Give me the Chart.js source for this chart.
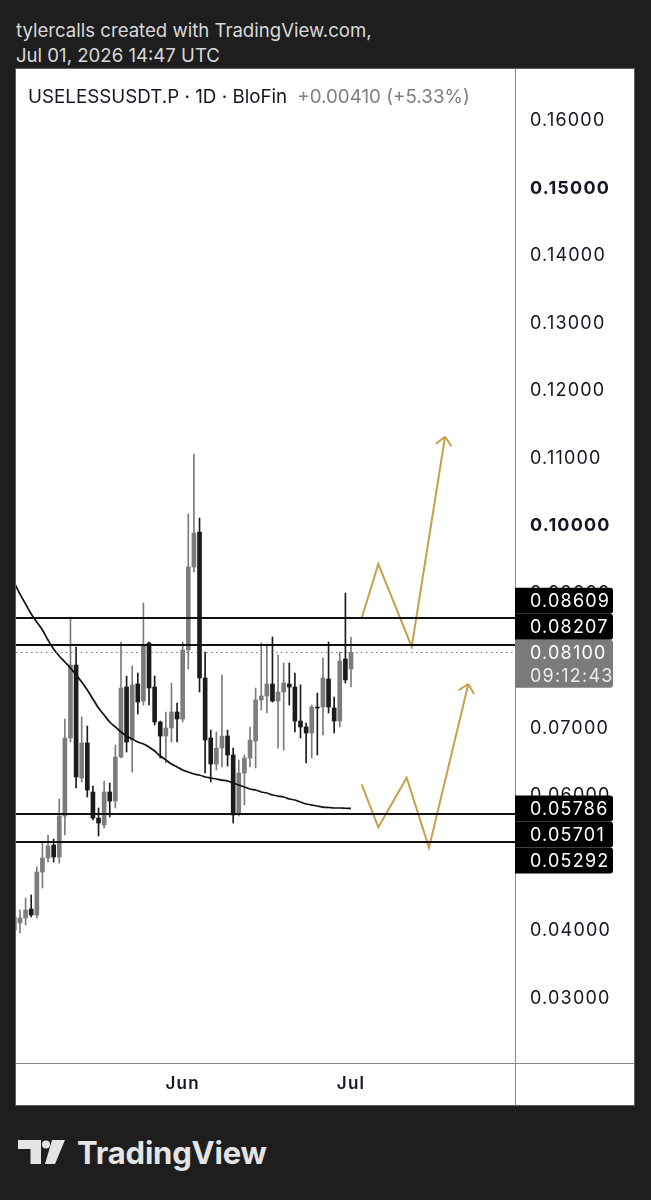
<!DOCTYPE html>
<html>
<head>
<meta charset="utf-8">
<title>USELESSUSDT.P 1D</title>
<script src="https://cdn.jsdelivr.net/npm/chart.js@4.4.1/dist/chart.umd.min.js"></script>
<style>
  html, body { margin: 0; padding: 0; }
  body { width: 651px; height: 1200px; background: #1e1e1e; position: relative; overflow: hidden; font-family: Inter, "Liberation Sans", sans-serif; }
  .head { position: absolute; left: 16px; color: #d9d9d9; font-size: 18.6px; line-height: 24px; white-space: nowrap; }
  #wrap { position: absolute; left: 16px; top: 69px; width: 618px; height: 1036px; background: #fff; outline: 1px solid #5f5f5f; }
  #chart { display: block; }
  #title { position: absolute; left: 12px; top: 17px; font-size: 18.8px; line-height: 22px; color: #131722; white-space: nowrap; }
  #title .chg { color: #7f7f7f; margin-left: 10px; }
  #brand { position: absolute; left: 18px; top: 1134px; height: 36px; display: flex; align-items: center; color: #e4e4e4; font-weight: 700; font-size: 31px; letter-spacing: -0.2px; }
  #brand svg { margin-right: 12px; }
</style>
</head>
<body>
<div class="head" style="top:18px">tylercalls created with TradingView.com,</div>
<div class="head" style="top:43px">Jul 01, 2026 14:47 UTC</div>
<div id="wrap">
  <canvas id="chart" width="618" height="1036"></canvas>
  <div id="title">USELESSUSDT.P · 1D · BloFin<span class="chg">+0.00410 (+5.33%)</span></div>
</div>
<div id="brand">
  <svg width="47" height="24" viewBox="0 0 47 24"><path fill="#e4e4e4" d="M0 0H23V24H12.5V9H0Z"/><circle fill="#e4e4e4" cx="28" cy="4.5" r="4"/><path fill="#e4e4e4" d="M34 0H47L37 24H27Z"/></svg>TradingView
</div>
<script>
// daily candles, May 02 .. Jul 01
const candleDates = [
  '05-02','05-03','05-04','05-05','05-06','05-07','05-08','05-09','05-10','05-11',
  '05-12','05-13','05-14','05-15','05-16','05-17','05-18','05-19','05-20','05-21',
  '05-22','05-23','05-24','05-25','05-26','05-27','05-28','05-29','05-30','05-31',
  '06-01','06-02','06-03','06-04','06-05','06-06','06-07','06-08','06-09','06-10',
  '06-11','06-12','06-13','06-14','06-15','06-16','06-17','06-18','06-19','06-20',
  '06-21','06-22','06-23','06-24','06-25','06-26','06-27','06-28','06-29','06-30',
  '07-01'
];
const openPrices = [
  0.03985,0.04089,0.04163,0.04296,0.04207,0.04844,0.05052,0.05244,0.05067,0.05674,
  0.06830,0.07911,0.06237,0.06756,0.06030,0.05644,0.05541,0.06030,0.05896,0.06548,
  0.07585,0.06800,0.07630,0.07378,0.08237,0.07585,0.07067,0.06859,0.06978,0.07215,
  0.07111,0.08133,0.09363,0.09881,0.07719,0.06830,0.06444,0.06681,0.06859,0.06578,
  0.05719,0.06311,0.06533,0.06785,0.07393,0.07452,0.07630,0.07378,0.07511,0.07630,
  0.07585,0.07081,0.06993,0.06904,0.07289,0.07289,0.07704,0.07274,0.07081,0.08000,
  0.07852
];
const highPrices = [
  0.04356,0.04281,0.04459,0.04504,0.04919,0.05274,0.05393,0.05333,0.05926,0.07111,
  0.08622,0.08178,0.07141,0.07007,0.06119,0.05793,0.06193,0.06163,0.06726,0.08252,
  0.07748,0.07896,0.07793,0.08830,0.08252,0.07748,0.07081,0.07215,0.07644,0.07348,
  0.08252,0.10148,0.11037,0.10089,0.08104,0.06948,0.06919,0.07763,0.06948,0.06681,
  0.06504,0.06578,0.06993,0.07570,0.08237,0.08222,0.08326,0.08059,0.07941,0.07941,
  0.07793,0.07615,0.07052,0.07319,0.07496,0.08015,0.08252,0.07437,0.08104,0.08978,
  0.08326
];
const lowPrices = [
  0.03881,0.03941,0.04059,0.04178,0.04163,0.04607,0.04993,0.04993,0.04978,0.05393,
  0.06770,0.06089,0.06178,0.05956,0.05615,0.05378,0.05496,0.05659,0.05793,0.06533,
  0.06622,0.06326,0.07185,0.07319,0.07319,0.07022,0.06533,0.06459,0.06770,0.06770,
  0.07067,0.07852,0.09289,0.07511,0.06311,0.06178,0.06356,0.06400,0.06415,0.05570,
  0.05674,0.05837,0.06400,0.06385,0.07244,0.07200,0.07363,0.06681,0.06652,0.07319,
  0.06919,0.06830,0.06459,0.06533,0.06578,0.06874,0.07200,0.06904,0.06993,0.07644,
  0.07585
];
const closePrices = [
  0.04178,0.04163,0.04281,0.04207,0.04844,0.05052,0.05230,0.05067,0.05674,0.06830,
  0.07911,0.06252,0.06756,0.06059,0.05644,0.05570,0.06030,0.05896,0.06548,0.07570,
  0.06770,0.07615,0.07363,0.08193,0.07570,0.07067,0.06859,0.06978,0.07215,0.07111,
  0.08133,0.09363,0.09867,0.07719,0.06800,0.06444,0.06681,0.06859,0.06578,0.05689,
  0.06311,0.06533,0.06800,0.07393,0.07452,0.07630,0.07378,0.07511,0.07644,0.07585,
  0.07081,0.06993,0.06904,0.07289,0.07274,0.07719,0.07289,0.07081,0.07970,0.07690,
  0.08100
];
const maValues = [
  0.09126,0.08963,0.08815,0.08667,0.08548,0.08430,0.08281,0.08148,0.08044,0.07956,
  0.07867,0.07763,0.07659,0.07541,0.07407,0.07274,0.07170,0.07067,0.06993,0.06919,
  0.06859,0.06815,0.06770,0.06741,0.06696,0.06637,0.06563,0.06504,0.06444,0.06400,
  0.06356,0.06326,0.06296,0.06281,0.06252,0.06237,0.06222,0.06207,0.06193,0.06163,
  0.06133,0.06104,0.06074,0.06059,0.06030,0.06015,0.05985,0.05970,0.05956,0.05926,
  0.05911,0.05881,0.05852,0.05837,0.05822,0.05807,0.05800,0.05793,0.05793,0.05789,
  0.05786
];

const monthTicks = ['06-01', '07-01'];
const monthLabels = ['Jun', 'Jul'];
const priceTicks = [0.03,0.04,0.05,0.06,0.07,0.08,0.09,0.10,0.11,0.12,0.13,0.14,0.15,0.16];
const boldTicks = [0.10, 0.15];
const levelPrices = [0.08609, 0.08207, 0.05701, 0.05292];
const lastPrice = 0.08100;
const countdown = '09:12:43';

// hand-drawn scenario paths (day index, price)
const upperPathX = [61.9, 64.87, 70.82, 76.76];
const upperPathY = [0.08603, 0.09407, 0.08182, 0.11293];
const lowerPathX = [61.9, 64.87, 69.93, 73.9, 80.91];
const lowerPathY = [0.06144, 0.05507, 0.06242, 0.05204, 0.07630];

const upColor = '#7c7c7c';
const downColor = '#1b1b1b';
const gold = '#c8a04c';

const candleColors = openPrices.map((o, i) => closePrices[i] >= o ? upColor : downColor);
const wickData = openPrices.map((o, i) => ({ x: i, y: [lowPrices[i], highPrices[i]] }));
const bodyData = openPrices.map((o, i) => ({ x: i, y: [o, closePrices[i]] }));
const maData = maValues.map((v, i) => ({ x: i, y: v }));
const upperPath = upperPathX.map((x, i) => ({ x, y: upperPathY[i] }));
const lowerPath = lowerPathX.map((x, i) => ({ x, y: lowerPathY[i] }));
const monthTickIdx = monthTicks.map(d => candleDates.indexOf(d));

function hline(ctx, x1, x2, y) {
  ctx.beginPath(); ctx.moveTo(x1, y); ctx.lineTo(x2, y); ctx.stroke();
}

// push overlapping price labels apart; heavy ones hardly move
function stackLabels(items) {
  items.sort((a, b) => a.y - b.y);
  const place = g => {
    let off = 0, s = 0, sw = 0;
    g.members.forEach(m => { m.off = off + m.anchor; off += m.h; s += m.w * (m.y - m.off); sw += m.w; });
    g.top = s / sw; g.bottom = g.top + off;
  };
  const groups = items.map(it => ({ members: [it] }));
  groups.forEach(place);
  let merged = true;
  while (merged) {
    merged = false;
    for (let i = 0; i < groups.length - 1; i++) {
      if (groups[i].bottom > groups[i + 1].top) {
        groups[i].members = groups[i].members.concat(groups[i + 1].members);
        groups.splice(i + 1, 1);
        place(groups[i]);
        merged = true;
        break;
      }
    }
  }
  groups.forEach(g => g.members.forEach(m => { m.top = g.top + m.off - m.anchor; }));
  return items;
}

const overlay = {
  id: 'overlay',
  beforeDraw(chart) {
    chart.ctx.letterSpacing = '1.2px';
  },
  afterDatasetsDraw(chart) {
    const { ctx, chartArea: a, scales: { y } } = chart;
    ctx.save();
    // last price, dotted
    ctx.strokeStyle = '#7a7a7a'; ctx.lineWidth = 1; ctx.setLineDash([1.5, 3.5]);
    hline(ctx, a.left, a.right, Math.round(y.getPixelForValue(lastPrice)) + 0.5);
    ctx.setLineDash([]);
    // horizontal levels
    ctx.strokeStyle = '#111'; ctx.lineWidth = 2;
    levelPrices.forEach(v => hline(ctx, a.left, a.right, Math.round(y.getPixelForValue(v))));
    // arrow heads on the scenario paths
    chart.data.datasets.forEach((ds, i) => {
      if (!ds.arrowHead) return;
      const pts = chart.getDatasetMeta(i).data;
      const p = pts[pts.length - 1], q = pts[pts.length - 2];
      const ang = Math.atan2(p.y - q.y, p.x - q.x) + Math.PI;
      ctx.strokeStyle = ds.borderColor; ctx.lineWidth = ds.borderWidth;
      ctx.beginPath();
      [-0.76, 0.76].forEach(d => {
        ctx.moveTo(p.x, p.y);
        ctx.lineTo(p.x + 11.5 * Math.cos(ang + d), p.y + 11.5 * Math.sin(ang + d));
      });
      ctx.stroke();
    });
    ctx.restore();
  },
  afterDraw(chart) {
    const { ctx, chartArea: a, scales: { y }, width, height } = chart;
    ctx.save();
    ctx.strokeStyle = '#8a8a8a'; ctx.lineWidth = 1;
    ctx.beginPath();
    ctx.moveTo(a.right + 0.5, 0); ctx.lineTo(a.right + 0.5, height);
    ctx.moveTo(0, a.bottom + 0.5); ctx.lineTo(width, a.bottom + 0.5);
    ctx.stroke();

    const items = levelPrices.map(v => ({ y: y.getPixelForValue(v), rows: [v.toFixed(5)], bg: '#000', fg: ['#fff'], h: 26, anchor: 13, w: 1 }));
    const maLast = maValues[maValues.length - 1];
    items.push({ y: y.getPixelForValue(maLast), rows: [maLast.toFixed(5)], bg: '#000', fg: ['#fff'], h: 26, anchor: 13, w: 1000 });
    items.push({ y: y.getPixelForValue(lastPrice), rows: [lastPrice.toFixed(5), countdown], bg: '#7b7b7b', fg: ['#fff', '#ececec'], h: 48, anchor: 12.5, w: 1000 });
    stackLabels(items);

    ctx.font = '18px Inter';
    ctx.letterSpacing = '1.2px';
    ctx.textBaseline = 'middle';
    ctx.textAlign = 'left';
    items.forEach(it => {
      const x0 = a.right, x1 = a.right + 98, r = 3;
      ctx.fillStyle = it.bg;
      ctx.beginPath();
      ctx.moveTo(x0, it.top);
      ctx.lineTo(x1 - r, it.top);
      ctx.quadraticCurveTo(x1, it.top, x1, it.top + r);
      ctx.lineTo(x1, it.top + it.h - r);
      ctx.quadraticCurveTo(x1, it.top + it.h, x1 - r, it.top + it.h);
      ctx.lineTo(x0, it.top + it.h);
      ctx.closePath();
      ctx.fill();
      it.rows.forEach((t, j) => {
        ctx.fillStyle = it.fg[j];
        ctx.fillText(t, a.right + 15, it.top + it.anchor + 1 + j * 23.5);
      });
    });
    ctx.restore();
  }
};

new Chart(document.getElementById('chart'), {
  type: 'bar',
  data: {
    datasets: [
      { type: 'line', data: upperPath, borderColor: gold, borderWidth: 2, pointRadius: 0, tension: 0, clip: 0, arrowHead: true, order: 0 },
      { type: 'line', data: lowerPath, borderColor: gold, borderWidth: 2, pointRadius: 0, tension: 0, clip: 0, arrowHead: true, order: 0 },
      { type: 'line', data: maData, borderColor: '#111', borderWidth: 1.7, pointRadius: 0, tension: 0.35, clip: 0, order: 1 },
      { type: 'bar', data: bodyData, backgroundColor: candleColors, barThickness: 4, grouped: false, minBarLength: 1, clip: 0, order: 2 },
      { type: 'bar', data: wickData, backgroundColor: candleColors, barThickness: 1, grouped: false, clip: 0, order: 3 }
    ]
  },
  options: {
    responsive: false,
    animation: false,
    devicePixelRatio: 1,
    layout: { padding: 0 },
    plugins: { legend: { display: false }, tooltip: { enabled: false } },
    scales: {
      x: {
        type: 'linear', min: 0.29, max: 89.23, offset: false,
        grid: { display: false, drawTicks: false }, border: { display: false },
        afterBuildTicks: s => { s.ticks = monthTickIdx.map(v => ({ value: v })); },
        afterFit: s => { s.height = 42; s.paddingLeft = 0; s.paddingRight = 0; },
        ticks: {
          autoSkip: false, maxRotation: 0, padding: 11, color: '#131722',
          font: { family: 'Inter', size: 17, weight: '600' },
          callback: v => monthLabels[monthTickIdx.indexOf(v)]
        }
      },
      y: {
        type: 'linear', position: 'right', min: 0.02015, max: 0.16741,
        grid: { display: false, drawTicks: false }, border: { display: false },
        afterBuildTicks: s => { s.ticks = priceTicks.map(v => ({ value: v })); },
        afterFit: s => { s.width = 119; s.paddingTop = 0; s.paddingBottom = 0; },
        ticks: {
          autoSkip: false, padding: 15, labelOffset: 2, color: '#131722',
          font: c => ({ family: 'Inter', size: 18, weight: c.tick && boldTicks.includes(c.tick.value) ? '700' : '400' }),
          callback: v => v.toFixed(5)
        }
      }
    }
  },
  plugins: [overlay]
});
</script>
</body>
</html>
